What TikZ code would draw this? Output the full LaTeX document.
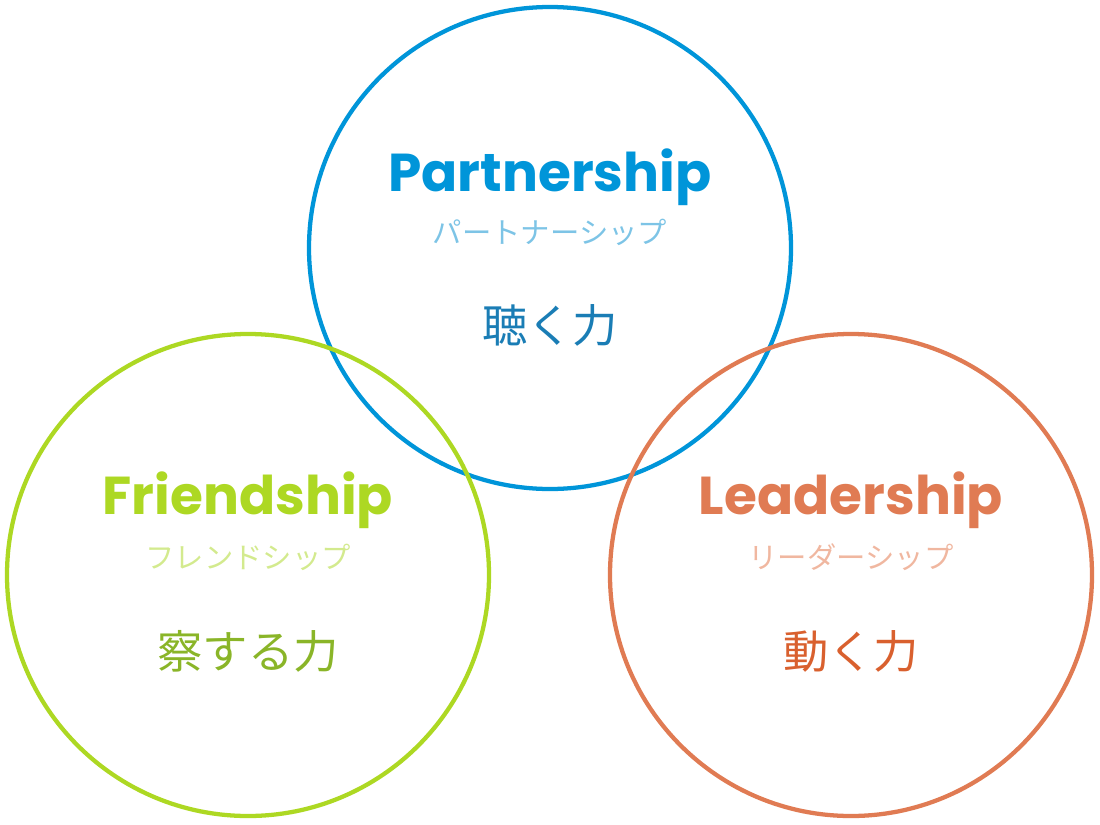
\documentclass[tikz,border=0pt]{standalone}
\usepackage{fontspec}
\setmainfont{Poppins}
\newfontfamily\jp{Noto Sans CJK JP}
\definecolor{cb}{HTML}{0095D9}\definecolor{cbl}{HTML}{7DC4E6}\definecolor{cbk}{HTML}{1A7DB5}
\definecolor{cg}{HTML}{ADD823}\definecolor{cgl}{HTML}{D3EA8E}\definecolor{cgk}{HTML}{8AB528}
\definecolor{co}{HTML}{E07B53}\definecolor{col}{HTML}{F0B7A0}\definecolor{cok}{HTML}{D9602E}
\begin{document}
\begin{tikzpicture}[x=0.75pt,y=-0.75pt,
  ring/.style={draw,line width=3.2pt,circle,minimum size=482*0.75pt,inner sep=0pt},
  title/.style={font=\fontsize{40}{40}\selectfont\bfseries},
  kana/.style={font=\jp\fontsize{22}{22}\selectfont},
  kanji/.style={font=\jp\fontsize{34}{34}\selectfont}]
\useasboundingbox (0,0) rectangle (1100,825);
\node[ring,cb] (p) at (550,248) {};
\node[ring,cg] (f) at (248,575) {};
\node[ring,co] (l) at (851,575) {};
\node[title,text=cb] (pt) at (550,177) {Partnership};
\node[kana,text=cbl] (pk) at (550,232) {パートナーシップ};
\node[kanji,text=cbk] (pj) at (550,325) {聴く力};
\node[title,text=cg] (ft) at (248,500) {Friendship};
\node[kana,text=cgl] (fk) at (248,557) {フレンドシップ};
\node[kanji,text=cgk] (fj) at (248,651) {察する力};
\node[title,text=co] (lt) at (851,500) {Leadership};
\node[kana,text=col] (lk) at (851,557) {リーダーシップ};
\node[kanji,text=cok] (lj) at (851,651) {動く力};
\end{tikzpicture}
\end{document}
